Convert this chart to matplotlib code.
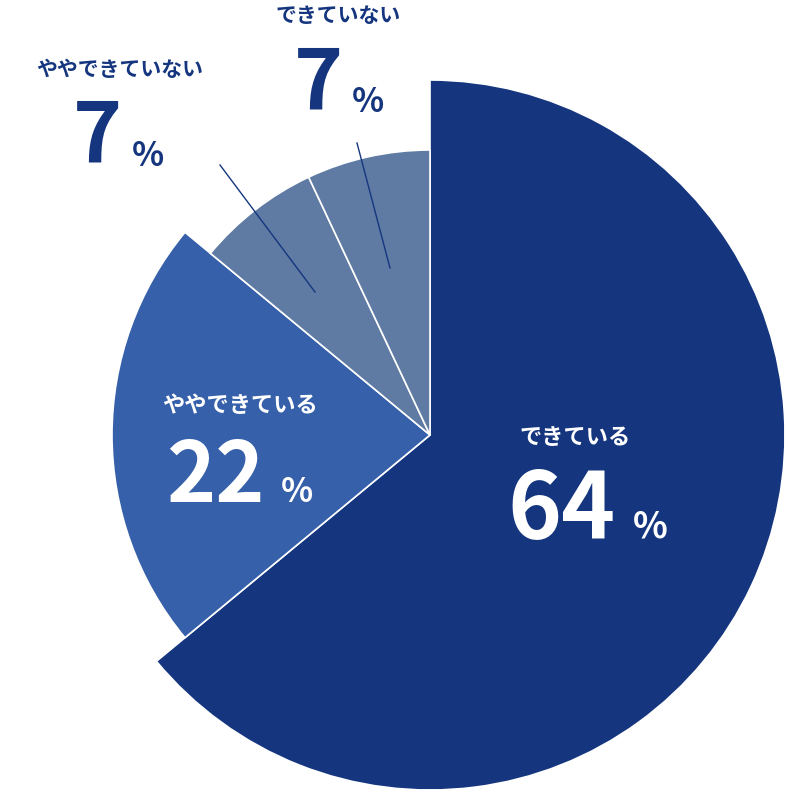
import matplotlib
matplotlib.use("Agg")
import matplotlib.pyplot as plt
from matplotlib.patches import Wedge
import numpy as np

labels = ["できている", "ややできている", "ややできていない", "できていない"]
values = [64, 22, 7, 7]
colors = ["#15367f", "#3660a9", "#5f7ba4", "#5f7ba4"]
radii = [355, 318, 285, 285]

plt.rcParams['font.family'] = ['Noto Sans CJK JP', 'DejaVu Sans']
fig = plt.figure(figsize=(7.88, 7.92), dpi=100)
ax = fig.add_axes([0, 0, 1, 1])
ax.set_xlim(0, 788); ax.set_ylim(792, 0)
ax.axis('off')
cx, cy = 430, 435

# y inverted: angles measured clockwise visually
start = -90.0
for v, c, r in zip(values, colors, radii):
    span = v / sum(values) * 360
    ax.add_patch(Wedge((cx, cy), r, start, start + span, facecolor=c, edgecolor='white', linewidth=1.2))
    start += span

# labels inside
ax.text(575, 437, labels[0], color='white', fontsize=16, fontweight='bold', ha='center', va='center')
ax.text(562, 512, "64", color='white', fontsize=66, fontweight='bold', ha='center', va='center')
ax.text(650, 527, "%", color='white', fontsize=26, fontweight='bold', ha='center', va='center')
ax.text(240, 405, labels[1], color='white', fontsize=16, fontweight='bold', ha='center', va='center')
ax.text(215, 478, "22", color='white', fontsize=60, fontweight='bold', ha='center', va='center')
ax.text(297, 492, "%", color='white', fontsize=24, fontweight='bold', ha='center', va='center')

navy = "#15367f"
ax.text(120, 70, labels[2], color=navy, fontsize=15, fontweight='bold', ha='center', va='center')
ax.text(97, 138, f"{values[2]}", color=navy, fontsize=60, fontweight='bold', ha='center', va='center')
ax.text(148, 157, "%", color=navy, fontsize=24, fontweight='bold', ha='center', va='center')
ax.text(338, 15, labels[3], color=navy, fontsize=15, fontweight='bold', ha='center', va='center')
ax.text(318, 85, f"{values[3]}", color=navy, fontsize=60, fontweight='bold', ha='center', va='center')
ax.text(368, 103, "%", color=navy, fontsize=24, fontweight='bold', ha='center', va='center')

ax.plot([220, 315], [165, 292], color=navy, lw=1)
ax.plot([357, 390], [143, 268], color=navy, lw=1)

fig.savefig("out.png", dpi=100, facecolor='white')
